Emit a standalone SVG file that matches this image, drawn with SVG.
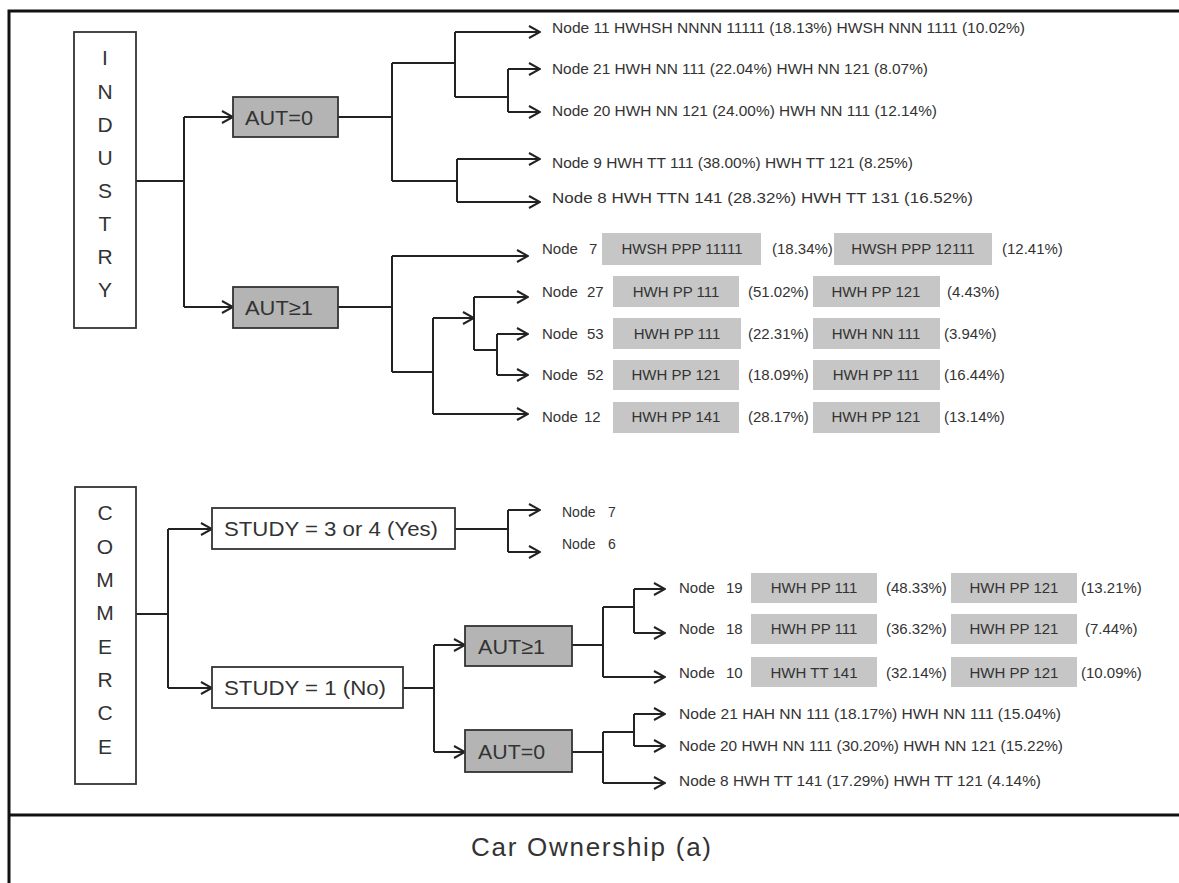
<svg xmlns="http://www.w3.org/2000/svg" width="1179" height="883" viewBox="0 0 1179 883">
<style>
  text { font-family: "Liberation Sans", Arial, sans-serif; fill: #333; }
  .big { font-size: 21px; }
  .row { font-size: 15px; }
  .sm { font-size: 14px; }
  .mid { text-anchor: middle; }
  .frame { stroke: #111; stroke-width: 3; fill: none; }
  .wbox { fill: #fff; stroke: #333; stroke-width: 1.8; }
  .dbox { fill: #b4b4b4; stroke: #333; stroke-width: 1.8; }
  .gbox { fill: #c6c6c6; stroke: none; }
  .conn path { stroke: #222; stroke-width: 2; fill: none; }
  .conn path.a { marker-end: url(#arr); }
</style>
<defs>
  <marker id="arr" markerUnits="userSpaceOnUse" viewBox="0 0 13 14" refX="12" refY="7" markerWidth="13" markerHeight="14" orient="auto">
    <path d="M1,1 L12,7 L1,13" fill="none" stroke="#222" stroke-width="2"/>
  </marker>
</defs>
<rect width="1179" height="883" fill="#fff"/>
<g id="frame">
  <path class="frame" d="M9,883 V11 H1179"/>
  <path class="frame" d="M9,815 H1179"/>
</g>

<g class="conn" id="connectors">
  <!-- industry -->
  <path d="M136,181 H184 M184,117 V307"/>
  <path class="a" d="M184,117 H233"/>
  <path class="a" d="M184,307 H233"/>
  <path d="M338,117 H392 M392,63 V181 M392,63 H455 M455,32 V97 M455,97 H508 M508,69 V112 M392,181 H457 M457,159 V202"/>
  <path class="a" d="M455,32 H540"/>
  <path class="a" d="M508,69 H540"/>
  <path class="a" d="M508,112 H540"/>
  <path class="a" d="M457,159 H540"/>
  <path class="a" d="M457,202 H540"/>
  <path d="M338,307 H392 M392,256 V372 M392,372 H433 M433,318 V414 M474,297 V350 M474,350 H497 M497,334 V375"/>
  <path class="a" d="M392,256 H528"/>
  <path class="a" d="M433,318 H474"/>
  <path class="a" d="M474,297 H528"/>
  <path class="a" d="M497,334 H528"/>
  <path class="a" d="M497,375 H528"/>
  <path class="a" d="M433,414 H528"/>
  <!-- commerce -->
  <path d="M136,614 H168 M168,529 V688"/>
  <path class="a" d="M168,529 H212"/>
  <path class="a" d="M168,688 H212"/>
  <path d="M455,529 H508 M508,510 V552"/>
  <path class="a" d="M508,510 H540"/>
  <path class="a" d="M508,552 H540"/>
  <path d="M403,688 H434 M434,645 V752"/>
  <path class="a" d="M434,645 H465"/>
  <path class="a" d="M434,752 H465"/>
  <path d="M572,645 H603 M603,607 V677 M603,607 H634 M634,589 V633"/>
  <path class="a" d="M634,589 H665"/>
  <path class="a" d="M634,633 H665"/>
  <path class="a" d="M603,677 H665"/>
  <path d="M572,752 H603 M603,732 V783 M603,732 H634 M634,714 V746"/>
  <path class="a" d="M634,714 H665"/>
  <path class="a" d="M634,746 H665"/>
  <path class="a" d="M603,783 H665"/>
</g>

<g id="industry">
  <rect class="wbox" x="74" y="32" width="62" height="296"/>
  <text class="big mid" x="105" y="65">I</text>
  <text class="big mid" x="105" y="99">N</text>
  <text class="big mid" x="105" y="132">D</text>
  <text class="big mid" x="105" y="165">U</text>
  <text class="big mid" x="105" y="198">S</text>
  <text class="big mid" x="105" y="231">T</text>
  <text class="big mid" x="105" y="264">R</text>
  <text class="big mid" x="105" y="297">Y</text>
</g>
<g id="ind-aut0">
  <rect class="dbox" x="233" y="97" width="105" height="40"/>
  <text class="big" x="245" y="125" textLength="68" lengthAdjust="spacingAndGlyphs">AUT=0</text>
</g>
<g id="ind-aut1">
  <rect class="dbox" x="233" y="287" width="105" height="41"/>
  <text class="big" x="245" y="315" textLength="68" lengthAdjust="spacingAndGlyphs">AUT≥1</text>
</g>
<g id="ind-node11"><text class="row" x="552" y="33" textLength="473" lengthAdjust="spacingAndGlyphs">Node 11 HWHSH NNNN 11111 (18.13%) HWSH NNN 1111 (10.02%)</text></g>
<g id="ind-node21"><text class="row" x="552" y="74" textLength="376" lengthAdjust="spacingAndGlyphs">Node 21 HWH NN 111 (22.04%) HWH NN 121 (8.07%)</text></g>
<g id="ind-node20"><text class="row" x="552" y="116" textLength="385" lengthAdjust="spacingAndGlyphs">Node 20 HWH NN 121 (24.00%) HWH NN 111 (12.14%)</text></g>
<g id="ind-node9"><text class="row" x="552" y="168" textLength="361" lengthAdjust="spacingAndGlyphs">Node 9 HWH TT 111 (38.00%) HWH TT 121 (8.25%)</text></g>
<g id="ind-node8"><text class="row" x="552" y="203" textLength="421" lengthAdjust="spacingAndGlyphs">Node 8 HWH TTN 141 (28.32%) HWH TT 131 (16.52%)</text></g>

<g id="ind-node7">
  <text class="row" x="542" y="254">Node<tspan x="589">7</tspan></text>
  <rect class="gbox" x="602" y="233" width="159" height="32"/>
  <text class="row mid" x="682" y="254">HWSH PPP 11111</text>
  <text class="row" x="772" y="254">(18.34%)</text>
  <rect class="gbox" x="834" y="233" width="158" height="32"/>
  <text class="row mid" x="913" y="254">HWSH PPP 12111</text>
  <text class="row" x="1002" y="254">(12.41%)</text>
</g>
<g id="ind-node27">
  <text class="row" x="542" y="297">Node<tspan x="587">27</tspan></text>
  <rect class="gbox" x="613" y="276" width="126" height="31"/>
  <text class="row mid" x="676" y="297">HWH PP 111</text>
  <text class="row" x="748" y="297">(51.02%)</text>
  <rect class="gbox" x="813" y="276" width="127" height="31"/>
  <text class="row mid" x="876" y="297">HWH PP 121</text>
  <text class="row" x="947" y="297">(4.43%)</text>
</g>
<g id="ind-node53">
  <text class="row" x="542" y="339">Node<tspan x="587">53</tspan></text>
  <rect class="gbox" x="613" y="318" width="128" height="31"/>
  <text class="row mid" x="677" y="339">HWH PP 111</text>
  <text class="row" x="748" y="339">(22.31%)</text>
  <rect class="gbox" x="813" y="318" width="127" height="31"/>
  <text class="row mid" x="876" y="339">HWH NN 111</text>
  <text class="row" x="944" y="339">(3.94%)</text>
</g>
<g id="ind-node52">
  <text class="row" x="542" y="380">Node<tspan x="587">52</tspan></text>
  <rect class="gbox" x="613" y="360" width="126" height="30"/>
  <text class="row mid" x="676" y="380">HWH PP 121</text>
  <text class="row" x="748" y="380">(18.09%)</text>
  <rect class="gbox" x="813" y="360" width="127" height="30"/>
  <text class="row mid" x="876" y="380">HWH PP 111</text>
  <text class="row" x="944" y="380">(16.44%)</text>
</g>
<g id="ind-node12">
  <text class="row" x="542" y="422">Node<tspan x="584">12</tspan></text>
  <rect class="gbox" x="613" y="402" width="126" height="31"/>
  <text class="row mid" x="676" y="422">HWH PP 141</text>
  <text class="row" x="748" y="422">(28.17%)</text>
  <rect class="gbox" x="813" y="402" width="127" height="31"/>
  <text class="row mid" x="876" y="422">HWH PP 121</text>
  <text class="row" x="944" y="422">(13.14%)</text>
</g>

<g id="commerce">
  <rect class="wbox" x="75" y="487" width="61" height="297"/>
  <text class="big mid" x="105" y="520">C</text>
  <text class="big mid" x="105" y="554">O</text>
  <text class="big mid" x="105" y="587">M</text>
  <text class="big mid" x="105" y="620">M</text>
  <text class="big mid" x="105" y="654">E</text>
  <text class="big mid" x="105" y="687">R</text>
  <text class="big mid" x="105" y="720">C</text>
  <text class="big mid" x="105" y="754">E</text>
</g>
<g id="com-study-yes">
  <rect class="wbox" x="212" y="508" width="243" height="41"/>
  <text class="big" x="224" y="536" textLength="214" lengthAdjust="spacingAndGlyphs">STUDY = 3 or 4 (Yes)</text>
</g>
<g id="com-study-no">
  <rect class="wbox" x="212" y="667" width="191" height="41"/>
  <text class="big" x="224" y="695" textLength="162" lengthAdjust="spacingAndGlyphs">STUDY = 1 (No)</text>
</g>
<g id="com-node7"><text class="sm" x="562" y="517">Node<tspan x="608">7</tspan></text></g>
<g id="com-node6"><text class="sm" x="562" y="549">Node<tspan x="608">6</tspan></text></g>
<g id="com-aut1">
  <rect class="dbox" x="465" y="626" width="107" height="40"/>
  <text class="big" x="478" y="654" textLength="67" lengthAdjust="spacingAndGlyphs">AUT≥1</text>
</g>
<g id="com-aut0">
  <rect class="dbox" x="465" y="730" width="107" height="42"/>
  <text class="big" x="478" y="759" textLength="67" lengthAdjust="spacingAndGlyphs">AUT=0</text>
</g>
<g id="com-node19">
  <text class="row" x="679" y="593">Node<tspan x="726">19</tspan></text>
  <rect class="gbox" x="751" y="573" width="126" height="30"/>
  <text class="row mid" x="814" y="593">HWH PP 111</text>
  <text class="row" x="886" y="593">(48.33%)</text>
  <rect class="gbox" x="951" y="573" width="126" height="30"/>
  <text class="row mid" x="1014" y="593">HWH PP 121</text>
  <text class="row" x="1081" y="593">(13.21%)</text>
</g>
<g id="com-node18">
  <text class="row" x="679" y="634">Node<tspan x="726">18</tspan></text>
  <rect class="gbox" x="751" y="614" width="126" height="30"/>
  <text class="row mid" x="814" y="634">HWH PP 111</text>
  <text class="row" x="886" y="634">(36.32%)</text>
  <rect class="gbox" x="951" y="614" width="126" height="30"/>
  <text class="row mid" x="1014" y="634">HWH PP 121</text>
  <text class="row" x="1085" y="634">(7.44%)</text>
</g>
<g id="com-node10">
  <text class="row" x="679" y="678">Node<tspan x="726">10</tspan></text>
  <rect class="gbox" x="751" y="657" width="126" height="30"/>
  <text class="row mid" x="814" y="678">HWH TT 141</text>
  <text class="row" x="886" y="678">(32.14%)</text>
  <rect class="gbox" x="951" y="657" width="126" height="30"/>
  <text class="row mid" x="1014" y="678">HWH PP 121</text>
  <text class="row" x="1081" y="678">(10.09%)</text>
</g>
<g id="com-node21"><text class="row" x="679" y="719" textLength="382" lengthAdjust="spacingAndGlyphs">Node 21 HAH NN 111 (18.17%) HWH NN 111 (15.04%)</text></g>
<g id="com-node20"><text class="row" x="679" y="751" textLength="384" lengthAdjust="spacingAndGlyphs">Node 20 HWH NN 111 (30.20%) HWH NN 121 (15.22%)</text></g>
<g id="com-node8"><text class="row" x="679" y="786" textLength="362" lengthAdjust="spacingAndGlyphs">Node 8 HWH TT 141 (17.29%) HWH TT 121 (4.14%)</text></g>

<g id="caption">
  <text x="591" y="856" text-anchor="middle" font-size="26" textLength="240" lengthAdjust="spacing">Car Ownership (a)</text>
</g>
</svg>
